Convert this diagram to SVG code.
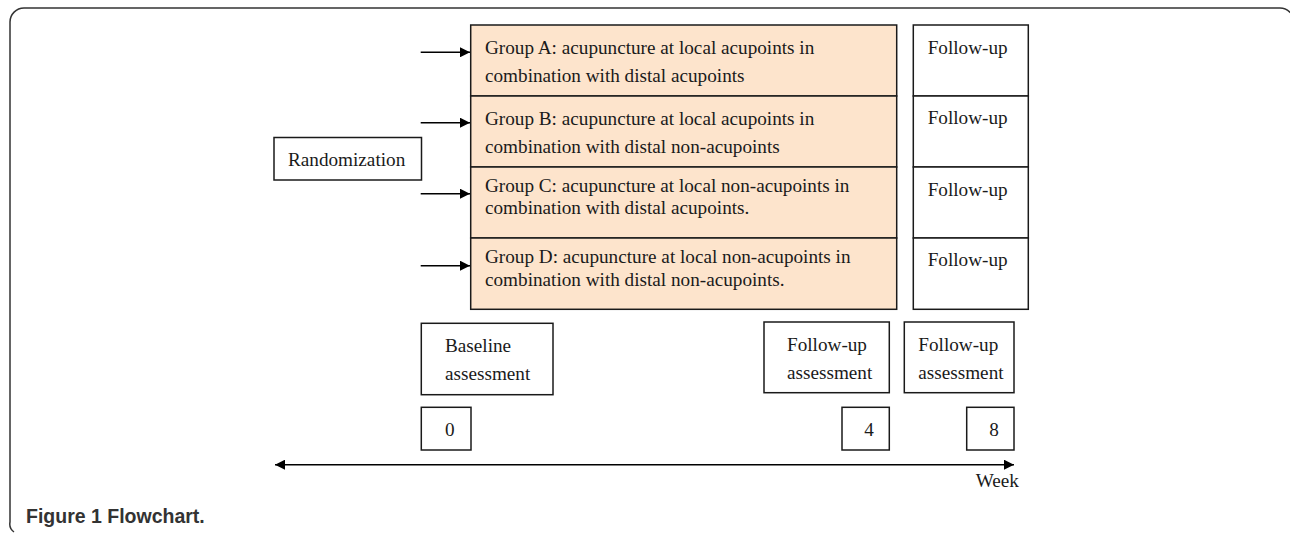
<svg xmlns="http://www.w3.org/2000/svg" width="1290" height="535" viewBox="0 0 1290 535">
<style>
.t{font-family:"Liberation Serif","Times New Roman",serif;font-size:19.2px;fill:#1a1a1a}
.box{fill:#fff;stroke:#1a1a1a;stroke-width:1.5}
.grp{fill:#fde4cc;stroke:#1a1a1a;stroke-width:1.5}
.ln{stroke:#000;stroke-width:1.6;fill:none}
.cap{font-family:"Liberation Sans",Arial,sans-serif;font-size:19.5px;font-weight:bold;fill:#333}
</style>
<defs>
<marker id="ah" viewBox="0 0 10 10" refX="10" refY="5" markerWidth="11" markerHeight="10" markerUnits="userSpaceOnUse" orient="auto-start-reverse">
<path d="M0,0 L10,5 L0,10 Z" fill="#000"/>
</marker>
</defs>
<path d="M1294,22 A14,14 0 0 0 1280,8 L24,8 A14,14 0 0 0 10,22 L10,522 A10,10 0 0 0 14,532" fill="none" stroke="#333" stroke-width="1.5"/>
<g id="randomization">
<rect class="box" x="274" y="137.5" width="147.5" height="42.5"/>
<text class="t" x="288" y="165.5">Randomization</text>
</g>
<g id="groupA">
<rect class="grp" x="470.7" y="25" width="426" height="71"/>
<text class="t" x="485" y="54.3">Group A: acupuncture at local acupoints in</text>
<text class="t" x="485" y="82.3">combination with distal acupoints</text>
</g>
<g id="groupB">
<rect class="grp" x="470.7" y="96" width="426" height="71"/>
<text class="t" x="485" y="125.3">Group B: acupuncture at local acupoints in</text>
<text class="t" x="485" y="152.7">combination with distal non-acupoints</text>
</g>
<g id="groupC">
<rect class="grp" x="470.7" y="167" width="426" height="71"/>
<text class="t" x="485" y="192">Group C: acupuncture at local non-acupoints in</text>
<text class="t" x="485" y="214.3">combination with distal acupoints.</text>
</g>
<g id="groupD">
<rect class="grp" x="470.7" y="238" width="426" height="71.3"/>
<text class="t" x="485" y="263.3">Group D: acupuncture at local non-acupoints in</text>
<text class="t" x="485" y="285.7">combination with distal non-acupoints.</text>
</g>
<g id="followupA">
<rect class="box" x="913.3" y="25" width="115" height="71"/>
<text class="t" x="927.7" y="53.7">Follow-up</text>
</g>
<g id="followupB">
<rect class="box" x="913.3" y="96" width="115" height="71"/>
<text class="t" x="927.7" y="124">Follow-up</text>
</g>
<g id="followupC">
<rect class="box" x="913.3" y="167" width="115" height="71"/>
<text class="t" x="927.7" y="196">Follow-up</text>
</g>
<g id="followupD">
<rect class="box" x="913.3" y="238" width="115" height="71.3"/>
<text class="t" x="927.7" y="266">Follow-up</text>
</g>
<g id="baseline">
<rect class="box" x="421.3" y="323.3" width="131.7" height="71.4"/>
<text class="t" x="445" y="352.3">Baseline</text>
<text class="t" x="445" y="380">assessment</text>
</g>
<g id="followup4">
<rect class="box" x="764" y="322" width="125.3" height="70.7"/>
<text class="t" x="787" y="351.3">Follow-up</text>
<text class="t" x="787" y="379">assessment</text>
</g>
<g id="followup8">
<rect class="box" x="904.3" y="322" width="109.7" height="70.7"/>
<text class="t" x="918.3" y="351.3">Follow-up</text>
<text class="t" x="918.3" y="379">assessment</text>
</g>
<g id="week0">
<rect class="box" x="421.3" y="407.3" width="49.7" height="42.7"/>
<text class="t" x="445" y="436">0</text>
</g>
<g id="week4">
<rect class="box" x="842" y="407.3" width="47.3" height="42.7"/>
<text class="t" x="864.3" y="436">4</text>
</g>
<g id="week8">
<rect class="box" x="966.7" y="407.3" width="47.3" height="42.7"/>
<text class="t" x="989.3" y="436">8</text>
</g>
<g id="connectors">
<line class="ln" x1="420.7" y1="52.3" x2="470" y2="52.3" marker-end="url(#ah)"/>
<line class="ln" x1="420.7" y1="122.7" x2="470" y2="122.7" marker-end="url(#ah)"/>
<line class="ln" x1="420.7" y1="193.7" x2="470" y2="193.7" marker-end="url(#ah)"/>
<line class="ln" x1="420.7" y1="265.7" x2="470" y2="265.7" marker-end="url(#ah)"/>
<line class="ln" x1="275" y1="464.7" x2="1014" y2="464.7" marker-start="url(#ah)" marker-end="url(#ah)"/>
</g>
<text class="t" x="975.7" y="486.7">Week</text>
<text class="cap" x="26" y="523">Figure 1 Flowchart.</text>
</svg>
